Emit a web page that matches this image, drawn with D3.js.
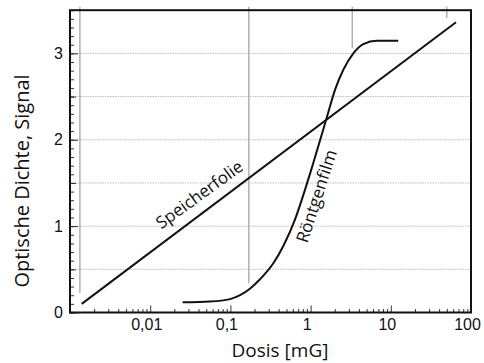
<!DOCTYPE html>
<html>
<head>
<meta charset="utf-8">
<script src="https://cdn.jsdelivr.net/npm/d3@7"></script>
<style>
  body { margin: 0; background: #fff; }
  svg { font-family: "Open Sans", "Noto Sans", sans-serif; }
</style>
</head>
<body>
<div id="chart"></div>
<script>
// Abmessungen
const width = 484;
const height = 363;

// Achsen
const xTicks = [0.01, 0.1, 1, 10, 100];
const xTickLabels = ["0,01", "0,1", "1", "10", "100"];
const yTicks = [0, 1, 2, 3];
const yGrid = [0.5, 1, 1.5, 2, 2.5, 3];

// Speicherfolie: Gerade (Dosis, Signal)
const folieDose = [0.0014, 65];
const folieSignal = [0.1, 3.36];

// Röntgenfilm: S-Kurve (Dosis, optische Dichte)
const filmDose = [0.0254, 0.0557, 0.099, 0.132, 0.175, 0.234, 0.343, 0.457, 0.638,
                  0.851, 1.08, 1.59, 2.02, 2.56, 3.41, 4.54, 6.67, 12.4];
const filmDensity = [0.118, 0.127, 0.155, 0.2, 0.275, 0.385, 0.57, 0.77, 1.075,
                     1.42, 1.73, 2.255, 2.58, 2.81, 3.0, 3.108, 3.146, 3.146];

// senkrechte Hilfslinien im Original (Dosis, von, bis)
const guideDose = [0.00133, 0.17, 3.3, 50];
const guideFrom = [0.226, 0.34, 3.06, 3.41];
const guideTo = [3.54, 3.54, 3.54, 3.54];

const x = d3.scaleLog().domain([0.001, 100]).range([70, 471]);
const y = d3.scaleLinear().domain([0, 3.5]).range([312.5, 10.2]);

const svg = d3.select("#chart").append("svg")
    .attr("width", width)
    .attr("height", height);

// Gitterlinien (gepunktet)
svg.append("g").selectAll("line")
    .data(yGrid)
    .join("line")
    .attr("x1", x.range()[0]).attr("x2", x.range()[1])
    .attr("y1", d => y(d)).attr("y2", d => y(d))
    .attr("stroke", "#bdbdbd")
    .attr("stroke-width", 1)
    .attr("stroke-dasharray", "1.5,1");

// Hilfslinien
svg.append("g").selectAll("line")
    .data(guideDose)
    .join("line")
    .attr("x1", d => x(d)).attr("x2", d => x(d))
    .attr("y1", (d, i) => y(guideFrom[i])).attr("y2", (d, i) => y(guideTo[i]))
    .attr("stroke", "#8a8a8a")
    .attr("stroke-width", 1);

// kleine Teilstriche X
const xMinor = [];
for (let e = -3; e < 2; e++) {
    for (let k = 2; k <= 9; k++) xMinor.push(k * Math.pow(10, e));
}
svg.append("g")
    .attr("transform", `translate(0,${y(0)})`)
    .call(d3.axisBottom(x).tickValues(xMinor).tickSize(-3.5).tickFormat(""))
    .call(g => g.select(".domain").remove())
    .call(g => g.selectAll("line").attr("stroke", "#333"));

// X-Achse
svg.append("g")
    .attr("transform", `translate(0,${y(0)})`)
    .call(d3.axisBottom(x).tickValues(xTicks).tickSize(-7).tickPadding(6)
        .tickFormat((d, i) => xTickLabels[i]))
    .call(g => g.select(".domain").remove())
    .call(g => g.selectAll("line").attr("stroke", "#333"))
    .call(g => g.selectAll("text")
        .attr("font-size", 16)
        .attr("fill", "#111")
        .attr("dx", -4));

// kleine Teilstriche Y
const yMinor = d3.range(0, 3.51, 0.1).map(v => +v.toFixed(1));
svg.append("g")
    .attr("transform", `translate(${x.range()[0]},0)`)
    .call(d3.axisLeft(y).tickValues(yMinor).tickSize(-4).tickFormat(""))
    .call(g => g.select(".domain").remove())
    .call(g => g.selectAll("line").attr("stroke", "#333"));

svg.append("g")
    .attr("transform", `translate(${x.range()[0]},0)`)
    .call(d3.axisLeft(y).tickValues([0.5, 1.5, 2.5]).tickSize(-6).tickFormat(""))
    .call(g => g.select(".domain").remove())
    .call(g => g.selectAll("line").attr("stroke", "#333"));

// Y-Achse
svg.append("g")
    .attr("transform", `translate(${x.range()[0]},0)`)
    .call(d3.axisLeft(y).tickValues(yTicks).tickSize(-8).tickPadding(7)
        .tickFormat(d3.format("d")))
    .call(g => g.select(".domain").remove())
    .call(g => g.selectAll("line").attr("stroke", "#333"))
    .call(g => g.selectAll("text")
        .attr("font-size", 16)
        .attr("fill", "#111"));

// Rahmen
svg.append("rect")
    .attr("x", x.range()[0])
    .attr("y", y.range()[1])
    .attr("width", x.range()[1] - x.range()[0])
    .attr("height", y.range()[0] - y.range()[1])
    .attr("fill", "none")
    .attr("stroke", "#111")
    .attr("stroke-width", 2);

// Speicherfolie
const line = d3.line().x(d => x(d[0])).y(d => y(d[1]));
svg.append("path")
    .datum(d3.zip(folieDose, folieSignal))
    .attr("d", line)
    .attr("fill", "none")
    .attr("stroke", "#111")
    .attr("stroke-width", 2);

// Röntgenfilm
svg.append("path")
    .datum(d3.zip(filmDose, filmDensity))
    .attr("d", d3.line().x(d => x(d[0])).y(d => y(d[1])).curve(d3.curveMonotoneX))
    .attr("fill", "none")
    .attr("stroke", "#111")
    .attr("stroke-width", 2);

// Kurvenbeschriftungen
svg.append("text")
    .attr("transform", "translate(199,194) rotate(-36)")
    .attr("text-anchor", "middle")
    .attr("dominant-baseline", "central")
    .attr("font-size", 17)
    .attr("fill", "#111")
    .text("Speicherfolie");

svg.append("text")
    .attr("transform", "translate(316,196) rotate(-72)")
    .attr("text-anchor", "middle")
    .attr("dominant-baseline", "central")
    .attr("font-size", 17)
    .attr("fill", "#111")
    .text("Röntgenfilm");

// Achsentitel
svg.append("text")
    .attr("x", 280)
    .attr("y", 357)
    .attr("text-anchor", "middle")
    .attr("font-size", 19)
    .attr("fill", "#111")
    .text("Dosis [mG]");

svg.append("text")
    .attr("transform", "translate(29,181) rotate(-90)")
    .attr("text-anchor", "middle")
    .attr("font-size", 20)
    .attr("fill", "#111")
    .text("Optische Dichte, Signal");
</script>
</body>
</html>
